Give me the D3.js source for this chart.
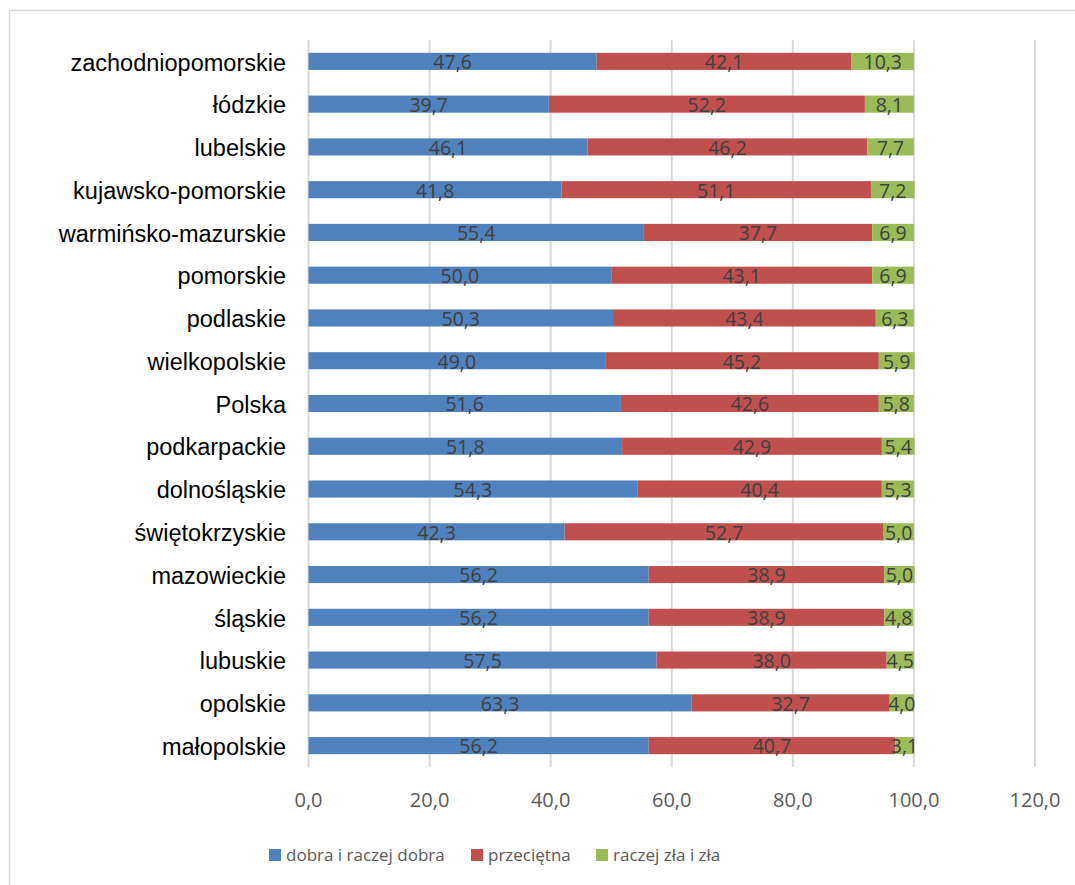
<!DOCTYPE html>
<html>
<head>
<meta charset="utf-8">
<script src="https://cdn.jsdelivr.net/npm/d3@7"></script>
<style>
  html, body { margin: 0; padding: 0; background: #fff; }
  svg { display: block; }
</style>
</head>
<body>
<svg id="chart" width="1075" height="885"></svg>
<script>
const categories = ["zachodniopomorskie","łódzkie","lubelskie","kujawsko-pomorskie","warmińsko-mazurskie","pomorskie","podlaskie","wielkopolskie","Polska","podkarpackie","dolnośląskie","świętokrzyskie","mazowieckie","śląskie","lubuskie","opolskie","małopolskie"];
const seriesNames = ["dobra i raczej dobra","przeciętna","raczej zła i zła"];
const dobra = [47.6,39.7,46.1,41.8,55.4,50.0,50.3,49.0,51.6,51.8,54.3,42.3,56.2,56.2,57.5,63.3,56.2];
const przecietna = [42.1,52.2,46.2,51.1,37.7,43.1,43.4,45.2,42.6,42.9,40.4,52.7,38.9,38.9,38.0,32.7,40.7];
const zla = [10.3,8.1,7.7,7.2,6.9,6.9,6.3,5.9,5.8,5.4,5.3,5.0,5.0,4.8,4.5,4.0,3.1];
const xTicks = [0,20,40,60,80,100,120];
const colors = ["#4F81BD","#C0504D","#9BBB59"];

const svg = d3.select("#chart");
const loc = d3.formatLocale({decimal: ",", thousands: " ", grouping: [3], currency: ["", " zł"]});
const fmt = loc.format(".1f");

// outer border
svg.append("rect").attr("x", 9.5).attr("y", 10.5).attr("width", 1100).attr("height", 900)
  .attr("fill", "none").attr("stroke", "#D9D9D9").attr("stroke-width", 1.5);

const x = d3.scaleLinear().domain([0, 120]).range([308.5, 1035]);
const y = d3.scaleBand().domain(categories).range([40, 767]).paddingInner(0.6).paddingOuter(0.3);

// gridlines
svg.append("g").selectAll("line").data(xTicks).join("line")
  .attr("x1", d => x(d)).attr("x2", d => x(d))
  .attr("y1", 40).attr("y2", 767)
  .attr("stroke", "#D9D9D9").attr("stroke-width", 2);

// stacked data
const rows = categories.map((c, i) => ({cat: c, s0: dobra[i], s1: przecietna[i], s2: zla[i]}));
const stack = d3.stack().keys(["s0","s1","s2"]);
const stacked = stack(rows);

const groups = svg.append("g").selectAll("g").data(stacked).join("g")
  .attr("fill", (d, i) => colors[i]);
groups.selectAll("rect").data(d => d).join("rect")
  .attr("x", d => x(d[0]))
  .attr("y", d => y(d.data.cat))
  .attr("width", d => x(d[1]) - x(d[0]))
  .attr("height", y.bandwidth());

// data labels
const labelG = svg.append("g");
stacked.forEach(layer => {
  labelG.selectAll(null).data(layer).join("text")
    .attr("x", d => (x(d[0]) + x(d[1])) / 2)
    .attr("y", d => y(d.data.cat) + y.bandwidth() / 2 + 1)
    .attr("dy", "0.35em")
    .attr("text-anchor", "middle")
    .attr("font-family", "'Open Sans', sans-serif")
    .attr("font-size", "19.5px")
    .attr("fill", "#404040")
    .text(d => fmt(d[1] - d[0]));
});

// category labels
svg.append("g").selectAll("text").data(categories).join("text")
  .attr("x", 286)
  .attr("y", d => y(d) + y.bandwidth() / 2 + 1)
  .attr("dy", "0.35em")
  .attr("text-anchor", "end")
  .attr("font-family", "'Liberation Sans', Arial, sans-serif")
  .attr("font-size", "23.5px")
  .attr("fill", "#000")
  .text(d => d);

// x tick labels
svg.append("g").selectAll("text").data(xTicks).join("text")
  .attr("x", d => x(d))
  .attr("y", 800)
  .attr("dy", "0.35em")
  .attr("text-anchor", "middle")
  .attr("font-family", "'Open Sans', sans-serif")
  .attr("font-size", "20px")
  .attr("fill", "#595959")
  .text(d => fmt(d));

// legend
const legendX = [269, 471, 596];
const leg = svg.append("g").selectAll("g").data(seriesNames).join("g")
  .attr("transform", (d, i) => `translate(${legendX[i]},855)`);
leg.append("rect").attr("x", 0).attr("y", -6).attr("width", 12).attr("height", 12)
  .attr("fill", (d, i) => colors[i]);
leg.append("text").attr("x", 17).attr("y", 0).attr("dy", "0.35em")
  .attr("font-family", "'Open Sans', sans-serif")
  .attr("font-size", "17px")
  .attr("fill", "#595959")
  .text(d => d);
</script>
</body>
</html>
